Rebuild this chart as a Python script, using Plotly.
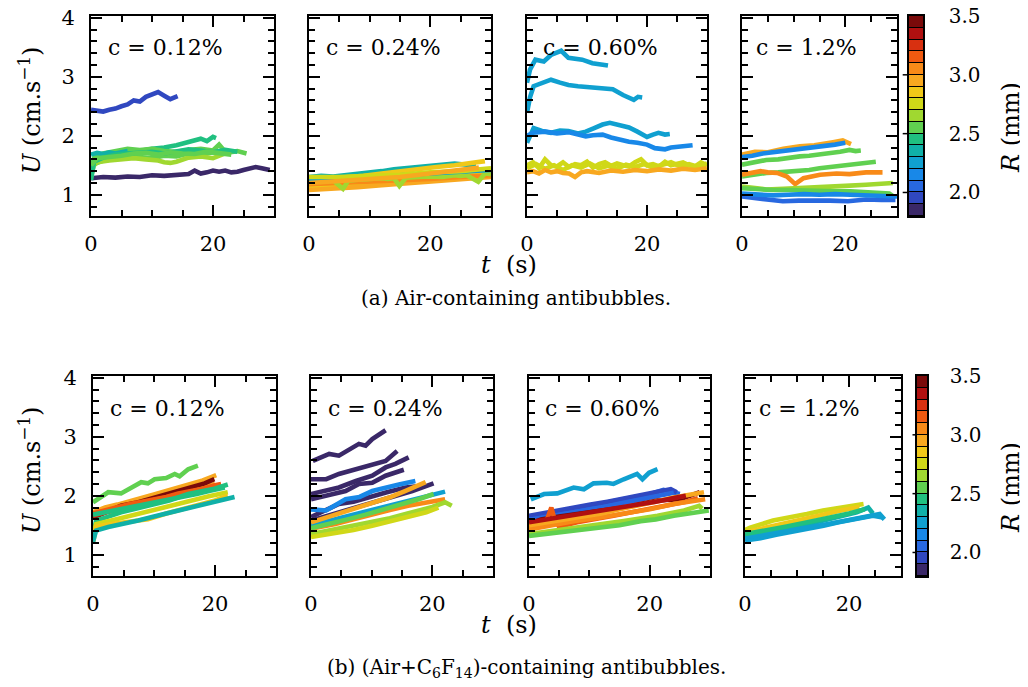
import plotly.graph_objects as go

# ---------------- data ----------------
CONC_LABELS = ["c = 0.12%", "c = 0.24%", "c = 0.60%", "c = 1.2%"]

# Row (a): Air-containing antibubbles
A1_R = [1.95, 1.85, 2.45, 2.55, 2.55, 2.65, 2.35, 2.45, 2.55]
A1_T = [[0, 1, 2, 3, 4, 5, 6, 7, 8, 9, 10, 11, 12, 13, 14.2],
        [0, 2, 4, 6, 8, 10, 12, 14, 16, 17, 18, 19, 20, 21, 22, 23, 24, 25, 26, 27, 28, 29.3],
        [0, 0.5, 2, 4, 6, 8, 10, 12, 14, 15, 16, 17, 18, 19, 20, 20.5],
        [0, 0.5, 2, 4, 6, 8, 10, 12, 14, 16, 18, 20, 22, 24, 25.5],
        [0, 0.5, 2, 4, 6, 8, 10, 12, 14, 16, 18, 20, 21, 22],
        [0, 1, 3, 5, 7, 9, 11, 12, 13, 14, 15, 16, 18, 20, 22],
        [0, 1, 2, 3, 4, 5, 6],
        [0, 0.5, 2, 4, 6, 8, 10, 12, 14, 16, 18, 20, 22, 24],
        [0, 1, 3, 5, 7, 9, 11, 13, 15, 17, 19, 21, 23]]
A1_U = [[2.44, 2.42, 2.41, 2.44, 2.46, 2.5, 2.53, 2.6, 2.58, 2.66, 2.7, 2.74, 2.68, 2.62, 2.67],
        [1.28, 1.3, 1.29, 1.31, 1.3, 1.33, 1.32, 1.34, 1.35, 1.41, 1.36, 1.38, 1.41, 1.39, 1.41, 1.38, 1.39, 1.42, 1.44, 1.47, 1.45, 1.42],
        [1.35, 1.6, 1.66, 1.72, 1.75, 1.74, 1.78, 1.8, 1.84, 1.87, 1.9, 1.93, 1.95, 1.91, 1.98, 1.96],
        [1.3, 1.52, 1.58, 1.61, 1.63, 1.64, 1.62, 1.66, 1.65, 1.7, 1.68, 1.72, 1.71, 1.74, 1.7],
        [1.4, 1.62, 1.7, 1.75, 1.78, 1.76, 1.78, 1.74, 1.73, 1.76, 1.78, 1.75, 1.85, 1.73],
        [1.45, 1.55, 1.58, 1.6, 1.62, 1.6, 1.58, 1.55, 1.54, 1.56, 1.6, 1.63, 1.65, 1.62, 1.7],
        [1.68, 1.71, 1.69, 1.72, 1.7, 1.73, 1.74],
        [1.25, 1.56, 1.63, 1.68, 1.7, 1.72, 1.73, 1.7, 1.74, 1.77, 1.75, 1.72, 1.76, 1.73],
        [1.5, 1.62, 1.64, 1.66, 1.7, 1.71, 1.68, 1.72, 1.7, 1.69, 1.73, 1.71, 1.68]]

A2_R = [2.35, 2.85, 2.85, 2.95, 3.05, 2.65, 2.25, 2.75, 2.95]
A2_T = [[0, 2, 4, 6, 8, 10, 12, 14, 16, 18, 20, 22, 24, 26, 27.5],
        [0, 3, 6, 9, 12, 15, 18, 21, 24, 27, 29],
        [0, 3, 6, 9, 12, 15, 18, 21, 24, 27, 30],
        [0, 4, 8, 12, 16, 20, 24, 28, 30],
        [0, 5, 10, 15, 20, 25, 30],
        [0, 1, 2, 3, 4, 5.6, 6.5, 7.5, 9, 10, 12, 13, 14, 14.9, 16, 18, 20, 22, 24, 25, 26, 27.9, 29, 30],
        [0, 5, 10, 15, 20, 25, 30],
        [0, 5, 10, 15, 20, 25, 30],
        [0, 5, 10, 15, 20, 25, 28]]
A2_U = [[1.3, 1.32, 1.31, 1.33, 1.35, 1.37, 1.4, 1.43, 1.45, 1.46, 1.49, 1.5, 1.53, 1.51, 1.49],
        [1.25, 1.27, 1.3, 1.32, 1.36, 1.4, 1.43, 1.47, 1.5, 1.54, 1.57],
        [1.12, 1.15, 1.17, 1.2, 1.22, 1.25, 1.27, 1.29, 1.32, 1.35, 1.38],
        [1.08, 1.1, 1.13, 1.16, 1.19, 1.22, 1.25, 1.28, 1.3],
        [1.18, 1.2, 1.22, 1.25, 1.27, 1.3, 1.33],
        [1.2, 1.22, 1.24, 1.22, 1.24, 1.1, 1.24, 1.25, 1.26, 1.27, 1.28, 1.27, 1.28, 1.15, 1.29, 1.3, 1.31, 1.3, 1.33, 1.32, 1.33, 1.22, 1.36, 1.35],
        [1.25, 1.27, 1.3, 1.33, 1.36, 1.38, 1.42],
        [1.3, 1.3, 1.32, 1.34, 1.38, 1.4, 1.45],
        [1.2, 1.23, 1.27, 1.3, 1.36, 1.42, 1.46]]

A3_R = [2.25, 2.25, 2.25, 2.15, 2.75, 2.75, 2.95]
A3_T = [[0, 0.5, 1.4, 2.8, 4, 5.7, 6.9, 8, 9.2, 10.9, 12, 13.5],
        [0, 0.5, 1.1, 2.5, 4, 5.5, 6.9, 8.5, 10.3, 12, 14.3, 16, 17.8, 18.5, 19.2],
        [0, 0.5, 1.1, 2.5, 4, 5.5, 6.9, 8.5, 9.8, 11, 12.6, 13.8, 15, 16, 17, 18.4, 20, 21, 21.9, 23, 23.8],
        [0, 1, 3, 5, 7, 8.5, 9.8, 11, 12.6, 14, 15.5, 17, 18.4, 20, 21.3, 23, 24, 25.3, 27.6],
        [0, 1, 2, 3, 4, 5, 6, 7, 8, 9, 10, 11, 12, 13, 14, 15, 16, 17, 18, 19, 20, 21, 22, 23, 24, 25, 26, 27, 28, 29, 30],
        [0, 1.5, 3, 4.5, 6, 7.5, 9, 10.5, 12, 13.5, 15, 16.5, 18, 19.5, 21, 22.5, 24, 25.5, 27, 28.5, 30],
        [0, 1, 2, 3, 4, 5, 6, 7, 8, 9, 10, 12, 14, 16, 18, 20, 22, 24, 26, 28, 30]]
A3_U = [[2.9, 3.12, 3.29, 3.26, 3.37, 3.44, 3.32, 3.3, 3.29, 3.23, 3.22, 3.19],
        [2.39, 2.65, 2.84, 2.9, 2.95, 2.9, 2.86, 2.84, 2.82, 2.8, 2.79, 2.69, 2.61, 2.66, 2.65],
        [1.88, 2.0, 2.13, 2.08, 2.05, 2.09, 2.08, 2.04, 2.07, 2.12, 2.19, 2.22, 2.19, 2.17, 2.14, 2.07, 1.98, 2.02, 2.05, 2.02, 2.03],
        [2.0, 2.05, 2.07, 2.04, 2.06, 2.02, 1.99, 2.01, 2.02, 1.97, 1.93, 1.9, 1.88, 1.85, 1.79, 1.77, 1.8, 1.82, 1.84],
        [1.5, 1.55, 1.45, 1.6, 1.5, 1.48, 1.55, 1.47, 1.52, 1.5, 1.56, 1.46, 1.52, 1.55, 1.49, 1.53, 1.5, 1.48, 1.55, 1.6, 1.5, 1.52, 1.48, 1.56, 1.5, 1.53, 1.55, 1.5, 1.48, 1.55, 1.5],
        [1.45, 1.52, 1.44, 1.5, 1.42, 1.5, 1.46, 1.53, 1.45, 1.49, 1.44, 1.51, 1.47, 1.52, 1.46, 1.5, 1.55, 1.48, 1.52, 1.47, 1.53],
        [1.38, 1.4, 1.36, 1.42, 1.38, 1.4, 1.37, 1.36, 1.3, 1.38, 1.4, 1.37, 1.41, 1.39, 1.42, 1.4, 1.43, 1.41, 1.44, 1.42, 1.45]]

A4_R = [2.95, 2.15, 2.55, 2.55, 3.05, 2.65, 2.55, 2.05, 2.15]
A4_T = [[0, 2.5, 5, 8, 11.2, 14, 17.6, 19.5, 21.1],
        [0, 2, 4, 6, 8, 10, 12, 14, 16, 18, 20],
        [0, 2, 4.7, 7, 9, 11.2, 13, 15, 17.6, 19, 20.8, 22, 23],
        [0, 2, 4.7, 7, 9, 11.2, 13, 15, 17.6, 20, 22, 24, 25.9],
        [0, 2, 3.6, 5, 6.8, 8.7, 10.3, 11.9, 13.5, 15.1, 18.3, 20.8, 24, 27.2],
        [0, 2, 4.7, 8, 11.2, 14, 17.6, 20, 24, 27, 29.2],
        [0, 3, 6, 9, 12, 15, 18, 21, 24, 27, 28.5, 29.5],
        [0, 2, 4.7, 7.9, 11, 14.1, 17, 20.5, 24, 27, 29.7],
        [0, 3, 6, 9, 12, 15, 18, 21, 24, 27, 30]]
A4_U = [[1.68, 1.73, 1.72, 1.78, 1.82, 1.84, 1.89, 1.92, 1.86],
        [1.64, 1.66, 1.7, 1.72, 1.75, 1.76, 1.79, 1.8, 1.83, 1.85, 1.88],
        [1.51, 1.55, 1.59, 1.6, 1.63, 1.65, 1.66, 1.68, 1.7, 1.73, 1.76, 1.74, 1.75],
        [1.31, 1.34, 1.37, 1.38, 1.39, 1.4, 1.42, 1.45, 1.48, 1.5, 1.52, 1.54, 1.56],
        [1.34, 1.37, 1.4, 1.38, 1.37, 1.31, 1.18, 1.28, 1.31, 1.34, 1.36, 1.35, 1.38, 1.38],
        [1.14, 1.12, 1.09, 1.1, 1.11, 1.12, 1.14, 1.15, 1.17, 1.18, 1.2],
        [1.11, 1.09, 1.08, 1.08, 1.07, 1.07, 1.06, 1.06, 1.05, 1.04, 1.02, 0.96],
        [0.97, 0.95, 0.93, 0.89, 0.9, 0.91, 0.9, 0.89, 0.92, 0.91, 0.91],
        [1.02, 1.0, 0.99, 1.0, 1.01, 1.0, 1.01, 1.0, 0.99, 0.98, 0.97]]

# Row (b): (Air+C6F14)-containing antibubbles
B1_R = [2.55, 2.95, 2.95, 3.45, 3.25, 3.15, 2.45, 2.75, 2.85, 2.35, 2.45]
B1_T = [[0, 2.5, 4.6, 6, 7.9, 9, 10.1, 12, 13.4, 14.2, 15.6, 17.2],
        [0, 2, 4, 6, 8, 10, 12, 14, 16, 18, 20.2],
        [0, 2, 4, 6, 8, 10, 12, 14, 16, 18, 20],
        [0, 2, 4.6, 7, 10.1, 13.4, 15, 16.5, 18.3, 19.9],
        [0, 2, 4, 6, 8, 10, 12, 14, 16, 18, 20, 21.3],
        [0, 2, 4, 6, 8, 10, 12, 14, 16, 18, 20, 21],
        [0, 0.5, 2, 4.6, 7, 10.1, 12.5, 15.6, 18, 19.9, 22.1],
        [0, 0.5, 3, 6, 10.1, 13, 16, 19, 22.1],
        [0, 0.5, 3, 6, 9, 12, 15.6, 18, 20, 22.1],
        [0, 0.5, 2.5, 5, 7.4, 10, 12.9, 15.5, 18.3, 20.5, 23.2],
        [0, 2, 5, 8, 11, 14, 17, 19, 21.6]]
B1_U = [[1.89, 2.06, 2.04, 2.12, 2.23, 2.21, 2.28, 2.3, 2.37, 2.33, 2.45, 2.51],
        [1.72, 1.8, 1.85, 1.9, 1.96, 2.02, 2.08, 2.14, 2.2, 2.26, 2.35],
        [1.65, 1.72, 1.76, 1.8, 1.86, 1.9, 1.96, 2.02, 2.08, 2.13, 2.2],
        [1.63, 1.72, 1.83, 1.88, 1.97, 2.06, 2.1, 2.15, 2.21, 2.28],
        [1.66, 1.72, 1.78, 1.83, 1.88, 1.93, 1.98, 2.02, 2.07, 2.11, 2.16, 2.14],
        [1.7, 1.76, 1.82, 1.86, 1.9, 1.94, 1.98, 2.04, 2.08, 2.12, 2.18, 2.2],
        [1.3, 1.58, 1.63, 1.72, 1.78, 1.86, 1.92, 2.03, 2.08, 2.12, 2.19],
        [1.3, 1.52, 1.58, 1.66, 1.77, 1.84, 1.92, 1.99, 2.06],
        [1.2, 1.48, 1.52, 1.56, 1.6, 1.7, 1.79, 1.86, 1.92, 2.0],
        [1.22, 1.41, 1.47, 1.52, 1.58, 1.65, 1.72, 1.79, 1.86, 1.92, 1.98],
        [1.68, 1.72, 1.78, 1.84, 1.9, 1.96, 2.03, 2.08, 2.14]]

B2_R = [1.85, 1.85, 1.85, 1.85, 1.85, 1.85, 2.15, 2.25, 2.95, 3.05, 2.65, 2.75, 2.55]
B2_T = [[0.3, 3, 4.6, 6.3, 7.9, 9, 10.1, 12.3],
        [0, 2.5, 4.6, 6.8, 9, 11.2, 12.3, 14.2],
        [0, 2.5, 4.6, 7.4, 10.1, 12.3, 13.9, 16.1],
        [0, 3.6, 5.7, 7.9, 10.1, 12.3, 15.3],
        [0, 3.6, 7.4, 10.1, 13.4, 16.7, 20.2],
        [0, 4.6, 7, 10.1, 12.5, 15.6, 18.3],
        [0, 2.5, 5.7, 8, 10.1, 12, 14.5, 17.2],
        [0, 3, 7.4, 10, 12.9, 15.5, 18.3, 20, 22.1],
        [0, 3, 7.4, 10, 12.9, 15.5, 18.9],
        [0, 4, 7, 10.1, 13, 16, 19, 22.1],
        [0, 3, 7.4, 10, 13, 15.6, 18, 20, 22.1, 23.2],
        [0, 4, 7, 10.1, 13, 16, 19, 21],
        [0, 3, 6, 9, 12, 15, 18, 20.2]]
B2_U = [[2.59, 2.71, 2.68, 2.79, 2.88, 2.85, 2.96, 3.11],
        [2.28, 2.28, 2.37, 2.43, 2.48, 2.56, 2.59, 2.76],
        [2.03, 2.08, 2.14, 2.25, 2.34, 2.48, 2.54, 2.65],
        [1.94, 2.03, 2.08, 2.2, 2.22, 2.34, 2.44],
        [1.58, 1.69, 1.8, 1.88, 1.97, 2.08, 2.21],
        [1.64, 1.86, 1.9, 2.0, 2.06, 2.14, 2.17],
        [1.77, 1.75, 1.94, 1.98, 2.08, 2.12, 2.19, 2.25],
        [1.5, 1.58, 1.69, 1.75, 1.83, 1.9, 1.97, 2.02, 2.07],
        [1.55, 1.65, 1.8, 1.88, 1.97, 2.08, 2.23],
        [1.44, 1.52, 1.6, 1.69, 1.76, 1.83, 1.88, 1.94],
        [1.35, 1.41, 1.49, 1.56, 1.62, 1.69, 1.75, 1.81, 1.89, 1.83],
        [1.3, 1.36, 1.42, 1.49, 1.56, 1.64, 1.72, 1.8],
        [1.45, 1.52, 1.6, 1.68, 1.77, 1.85, 1.95, 2.03]]

B3_R = [2.25, 2.05, 1.95, 2.05, 3.45, 3.15, 3.05, 2.95, 2.65, 2.55, 3.35]
B3_T = [[0.3, 2.5, 4.7, 7.4, 9.1, 10.7, 12.9, 14, 15.7, 17.9, 18.8, 19.9, 21.3],
        [0, 2.5, 4.7, 7.5, 10.2, 13, 15.7, 18, 20.1, 22.3, 23.5, 25],
        [0, 3, 6, 10.2, 13, 16, 19, 21.3, 23.5, 24.5],
        [0, 3, 6, 9, 12, 15.7, 19, 22, 24],
        [0, 2, 5, 10.2, 13, 15.7, 18, 21.3, 25, 26.6, 28.3],
        [0, 1.5, 3, 3.7, 4.3, 5.1, 6, 8, 11, 14, 17, 20, 23, 26, 28],
        [0, 3, 7.4, 11, 15.7, 20, 24, 27, 29.2],
        [0, 3, 6, 9, 12, 15, 18, 21, 24, 27, 29],
        [0, 4.7, 10.2, 15.7, 21.3, 25.7, 28.2, 28.7],
        [0, 4, 8, 12, 15, 18.5, 21, 24, 27, 29.8],
        [0, 3, 6, 9, 12, 15, 18, 21, 24, 26]]
B3_U = [[1.94, 2.03, 2.04, 2.14, 2.11, 2.21, 2.22, 2.2, 2.28, 2.37, 2.28, 2.39, 2.45],
        [1.63, 1.68, 1.72, 1.78, 1.83, 1.88, 1.94, 1.98, 2.03, 2.1, 2.06, 2.03],
        [1.66, 1.72, 1.77, 1.85, 1.9, 1.96, 2.01, 2.05, 2.11, 2.06],
        [1.59, 1.64, 1.7, 1.75, 1.8, 1.88, 1.95, 2.02, 2.05],
        [1.52, 1.6, 1.65, 1.72, 1.76, 1.8, 1.85, 1.92, 1.94, 2.0, 2.06],
        [1.48, 1.55, 1.6, 1.8, 1.58, 1.46, 1.5, 1.55, 1.6, 1.66, 1.72, 1.78, 1.85, 1.9, 1.96],
        [1.43, 1.49, 1.57, 1.62, 1.69, 1.77, 1.86, 1.9, 1.94],
        [1.5, 1.55, 1.6, 1.65, 1.7, 1.77, 1.83, 1.9, 1.97, 2.03, 2.06],
        [1.35, 1.41, 1.49, 1.57, 1.66, 1.75, 1.83, 1.78],
        [1.32, 1.37, 1.42, 1.47, 1.5, 1.57, 1.6, 1.66, 1.7, 1.75],
        [1.55, 1.6, 1.64, 1.7, 1.75, 1.79, 1.84, 1.9, 1.96, 2.0]]

B4_R = [2.75, 2.85, 2.35, 2.25, 2.25, 2.45]
B4_T = [[0, 1, 5.4, 8, 11.9, 15, 18.3, 21, 22.8],
        [0, 3, 6, 9, 12, 15, 18, 21, 22],
        [0, 3, 6, 8.7, 12, 15.1, 18, 21.5, 23.7, 24.6],
        [0, 3, 6, 8.7, 12, 15.1, 18, 21.5, 24.6, 26.5],
        [0, 4, 8, 12, 16, 20.3, 22, 25.9, 26.8],
        [0, 4, 8, 12, 16, 20, 23]]
B4_U = [[1.42, 1.46, 1.58, 1.62, 1.69, 1.75, 1.8, 1.84, 1.86],
        [1.38, 1.45, 1.5, 1.56, 1.63, 1.68, 1.74, 1.79, 1.81],
        [1.32, 1.36, 1.42, 1.46, 1.52, 1.58, 1.64, 1.72, 1.8, 1.7],
        [1.24, 1.28, 1.34, 1.38, 1.43, 1.49, 1.55, 1.61, 1.66, 1.63],
        [1.3, 1.35, 1.4, 1.46, 1.52, 1.6, 1.63, 1.69, 1.6],
        [1.35, 1.41, 1.48, 1.55, 1.62, 1.7, 1.77]]

R_MIN, R_MAX, R_STEP = 1.8, 3.5, 0.1
CBAR_TICKS = [2.0, 2.5, 3.0, 3.5]

# ---------------- style ----------------
BIN_COLORS = ["#3a2868", "#3048c0", "#2868e0", "#1888e8", "#10a0d0", "#10b0a8",
              "#20c080", "#60d050", "#a0d830", "#d0d818", "#f0c818", "#f8a820",
              "#f88a18", "#f05a10", "#d83010", "#b01010", "#7a0a0a"]
NBINS = len(BIN_COLORS)

FONT = "DejaVu Serif"
# the page body adds an 8 px margin, so the figure is drawn 8 px smaller and
# all reference pixel positions are shifted by that offset
OFF = 8
W, H = 1028 - OFF, 687 - OFF
PANEL_X = [[(91, 274), (309, 491), (527, 707), (742, 897)],
           [(93, 276), (311, 493), (529, 710), (745, 901)]]
PANEL_Y = [(16, 216), (376, 576)]
CBAR_X = [(909, 923), (917, 927)]
CBAR_STANDOFF = [20, 17]
NB = "\u00a0"

ROWS = [[(A1_R, A1_T, A1_U), (A2_R, A2_T, A2_U), (A3_R, A3_T, A3_U), (A4_R, A4_T, A4_U)],
        [(B1_R, B1_T, B1_U), (B2_R, B2_T, B2_U), (B3_R, B3_T, B3_U), (B4_R, B4_T, B4_U)]]


def color_for(r):
    i = int((r - R_MIN) / R_STEP + 1e-9)
    return BIN_COLORS[max(0, min(NBINS - 1, i))]


def px(x):
    return (x - OFF) / W


def py(y):
    return 1 - (y - OFF) / H


def xd(a, b):
    return [px(a), px(b)]


def yd(a, b):
    return [py(b), py(a)]


fig = go.Figure()
layout = dict(width=W, height=H, margin=dict(l=0, r=0, t=0, b=0, autoexpand=False),
              paper_bgcolor="white", plot_bgcolor="white", showlegend=False,
              font=dict(family=FONT, size=20, color="black"))
annotations = []
shapes = []

axis_common = dict(showline=True, linecolor="black", linewidth=2, mirror="allticks",
                   ticks="inside", tickwidth=1.5, tickcolor="black", ticklen=11,
                   showgrid=False, zeroline=False, automargin=False,
                   ticklabeloverflow="allow",
                   tickfont=dict(family=FONT, size=21, color="black"))

n = 0
for row in range(2):
    for col in range(4):
        n += 1
        sfx = "" if n == 1 else str(n)
        Rs, Ts, Us = ROWS[row][col]
        for r, t, u in zip(Rs, Ts, Us):
            fig.add_trace(go.Scatter(x=t, y=u, mode="lines", xaxis="x" + sfx, yaxis="y" + sfx,
                                     line=dict(color=color_for(r), width=4.6),
                                     hoverinfo="skip"))
        layout["xaxis" + sfx] = dict(axis_common, domain=xd(*PANEL_X[row][col]), range=[0, 30],
                                     anchor="y" + sfx, tickmode="linear", tick0=0, dtick=20,
                                     ticklabelstandoff=8,
                                     minor=dict(dtick=5, ticks="inside", ticklen=6, tickwidth=1.5,
                                                tickcolor="black", showgrid=False))
        layout["yaxis" + sfx] = dict(axis_common, domain=yd(*PANEL_Y[row]), range=[0.64, 4.03],
                                     anchor="x" + sfx, tickmode="linear", tick0=0, dtick=1,
                                     showticklabels=(col == 0), ticklabelstandoff=10,
                                     minor=dict(dtick=0.2, ticks="inside", ticklen=6, tickwidth=1.5,
                                                tickcolor="black", showgrid=False))
        annotations.append(dict(text=CONC_LABELS[col], xref="x" + sfx + " domain",
                                yref="y" + sfx + " domain", x=0.08, y=0.84,
                                xanchor="left", yanchor="middle", showarrow=False,
                                font=dict(family=FONT, size=22, color="black")))

# colour bars drawn as segmented heat strips
bin_centers = [R_MIN + (i + 0.5) * R_STEP for i in range(NBINS)]
cscale = [[i / (NBINS - 1), c] for i, c in enumerate(BIN_COLORS)]
for row in range(2):
    n += 1
    sfx = str(n)
    fig.add_trace(go.Heatmap(z=[[i] for i in range(NBINS)], x=[0], y=bin_centers,
                             colorscale=cscale, zmin=0, zmax=NBINS - 1, showscale=False,
                             ygap=1, xaxis="x" + sfx, yaxis="y" + sfx, hoverinfo="skip"))
    layout["xaxis" + sfx] = dict(domain=xd(*CBAR_X[row]), range=[-0.5, 0.5], anchor="y" + sfx,
                                 showticklabels=False, ticks="", showgrid=False, zeroline=False,
                                 automargin=False,
                                 showline=True, linecolor="black", linewidth=1.5, mirror=True)
    layout["yaxis" + sfx] = dict(domain=yd(*PANEL_Y[row]), range=[R_MIN, R_MAX], anchor="x" + sfx,
                                 side="right", tickvals=CBAR_TICKS,
                                 ticktext=["%.1f" % v for v in CBAR_TICKS], ticks="",
                                 ticklabelstandoff=CBAR_STANDOFF[row], showgrid=False,
                                 zeroline=False, automargin=False, ticklabeloverflow="allow",
                                 showline=True, linecolor="black", linewidth=1.5, mirror=True,
                                 tickfont=dict(family=FONT, size=20, color="black"))
    shapes.append(dict(type="rect", xref="x" + sfx + " domain", yref="y" + sfx + " domain",
                       x0=0, x1=1, y0=0, y1=1, fillcolor="black", line=dict(width=0),
                       layer="below"))
    for v in CBAR_TICKS[:-1]:
        shapes.append(dict(type="line", xref="x" + sfx + " domain", yref="y" + sfx,
                           x0=-0.45, x1=0, y0=v, y1=v, line=dict(color="black", width=1.5)))
    cy = (PANEL_Y[row][0] + PANEL_Y[row][1]) / 2
    annotations.append(dict(text="<i>R</i>" + NB + "(mm)", xref="paper", yref="paper",
                            x=px(1011), y=py(cy + 12), textangle=-90,
                            showarrow=False, xanchor="center", yanchor="middle",
                            font=dict(family=FONT, size=24, color="black")))
    annotations.append(dict(text="<i>U</i>" + NB + "(cm.s<sup>−1</sup>)", xref="paper",
                            yref="paper", x=px(30), y=py(cy - 6), textangle=-90,
                            showarrow=False, xanchor="center", yanchor="middle",
                            font=dict(family=FONT, size=24, color="black")))
    annotations.append(dict(text="<i>t</i>" + NB + NB + "(s)", xref="paper", yref="paper",
                            x=px(509), y=py(PANEL_Y[row][1] + 49), showarrow=False,
                            xanchor="center", yanchor="middle",
                            font=dict(family=FONT, size=24, color="black")))

annotations.append(dict(text="(a) Air-containing antibubbles.", xref="paper", yref="paper",
                        x=px(516), y=py(298), showarrow=False, xanchor="center",
                        yanchor="middle", font=dict(family=FONT, size=20, color="black")))
annotations.append(dict(text="(b) (Air+C<sub>6</sub>F<sub>14</sub>)-containing antibubbles.",
                        xref="paper", yref="paper", x=px(526), y=py(668), showarrow=False,
                        xanchor="center", yanchor="middle",
                        font=dict(family=FONT, size=20, color="black")))

layout["annotations"] = annotations
layout["shapes"] = shapes
fig.update_layout(**layout)
fig.write_html("out.html")
